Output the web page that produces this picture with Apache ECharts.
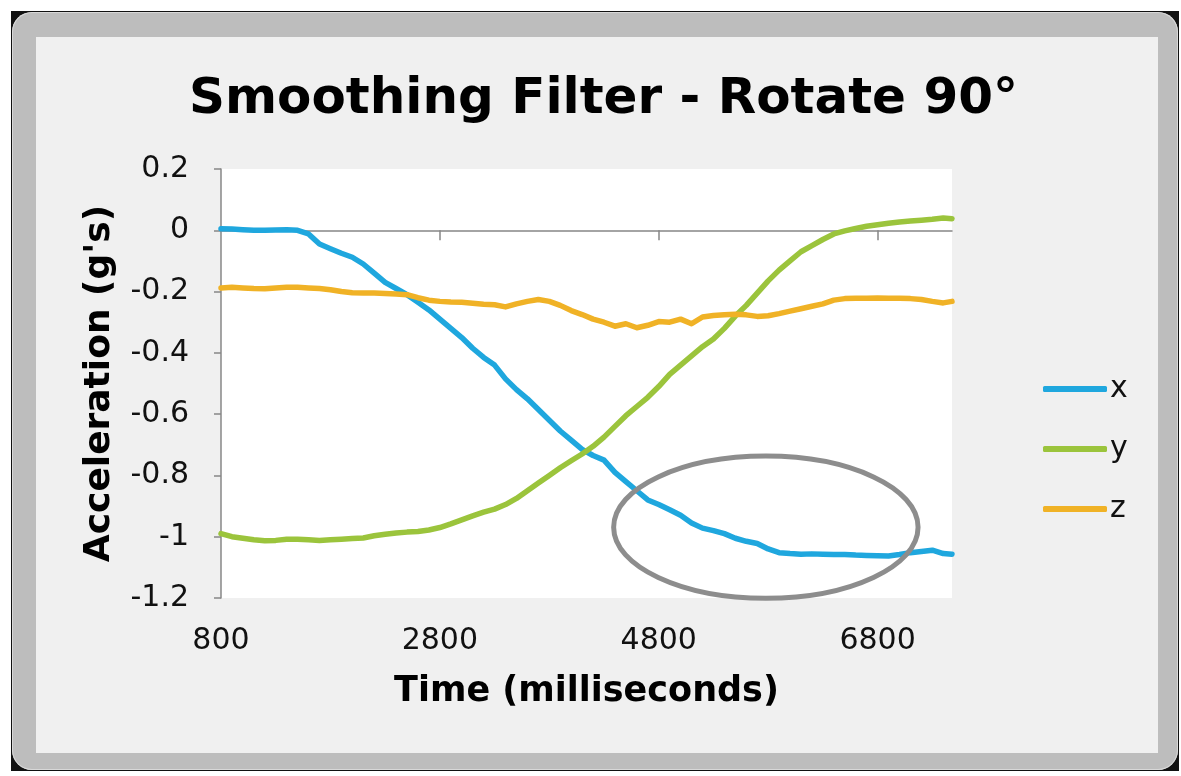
<!DOCTYPE html>
<html>
<head>
<meta charset="utf-8">
<script src="https://cdn.jsdelivr.net/npm/echarts@6/dist/echarts.min.js"></script>
<style>
  html, body { margin:0; padding:0; background:#ffffff; }
  #wrap { position:relative; width:1181px; height:776px; overflow:hidden; }
  #black { position:absolute; left:11px; top:11px; width:1168px; height:760px; background:#111; }
  #gray { position:absolute; left:12px; top:12px; width:1166px; height:758px; background:#bdbdbd; border-radius:20px; box-shadow: inset 0 0 0 1px #d8d8d8; }
  #inner { position:absolute; left:36px; top:37px; width:1122px; height:716px; background:#f0f0f0; }
  #chart { position:absolute; left:0; top:0; width:1181px; height:776px; }
</style>
</head>
<body>
<div id="wrap">
  <div id="black"></div>
  <div id="gray"></div>
  <div id="inner"></div>
  <div id="chart"></div>
</div>
<script>
// ---- Data (time in ms, acceleration in g's) ----
const titleText = 'Smoothing Filter - Rotate 90°';
const xAxisName = 'Time (milliseconds)';
const yAxisName = "Acceleration (g's)";
const xTickLabels = [800, 2800, 4800, 6800];
const yMin = -1.2, yMax = 0.2, yStep = 0.2;
const seriesNames = ['x', 'y', 'z'];

const times = [800, 900, 1000, 1100, 1200, 1300, 1400, 1500, 1600, 1700,
  1800, 1900, 2000, 2100, 2200, 2300, 2400, 2500, 2600, 2700,
  2800, 2900, 3000, 3100, 3200, 3300, 3400, 3500, 3600, 3700,
  3800, 3900, 4000, 4100, 4200, 4300, 4400, 4500, 4600, 4700,
  4800, 4900, 5000, 5100, 5200, 5300, 5400, 5500, 5600, 5700,
  5800, 5900, 6000, 6100, 6200, 6300, 6400, 6500, 6600, 6700,
  6800, 6900, 7000, 7100, 7200, 7300, 7400, 7480];

const xValues = [0.005, 0.004, 0.002, 0.0, 0.0, 0.001, 0.002, 0.0, -0.012, -0.045,
  -0.06, -0.075, -0.088, -0.11, -0.14, -0.17, -0.19, -0.21, -0.235, -0.26,
  -0.29, -0.32, -0.35, -0.385, -0.415, -0.44, -0.485, -0.52, -0.55, -0.585,
  -0.62, -0.655, -0.685, -0.715, -0.735, -0.75, -0.79, -0.82, -0.85, -0.88,
  -0.895, -0.912, -0.93, -0.955, -0.972, -0.98, -0.99, -1.005, -1.015, -1.022,
  -1.04, -1.052, -1.055, -1.057, -1.056, -1.057, -1.058, -1.058, -1.06, -1.061,
  -1.062, -1.063, -1.058, -1.052, -1.048, -1.044, -1.055, -1.057];

const yValues = [-0.99, -1.0, -1.005, -1.01, -1.013, -1.012, -1.008, -1.008, -1.01, -1.012,
  -1.01, -1.008, -1.006, -1.004, -0.997, -0.992, -0.988, -0.985, -0.983, -0.978,
  -0.97, -0.958, -0.945, -0.932, -0.92, -0.91, -0.895, -0.875, -0.85, -0.825,
  -0.8, -0.775, -0.752, -0.73, -0.705, -0.675, -0.64, -0.605, -0.575, -0.545,
  -0.51, -0.47, -0.44, -0.41, -0.38, -0.355, -0.32, -0.28, -0.245, -0.205,
  -0.165, -0.13, -0.1, -0.07, -0.05, -0.03, -0.012, -0.002, 0.006, 0.013,
  0.018, 0.023, 0.027, 0.03, 0.033, 0.036, 0.04, 0.038];

const zValues = [-0.188, -0.186, -0.188, -0.19, -0.191, -0.188, -0.186, -0.186, -0.188, -0.19,
  -0.194, -0.2, -0.204, -0.205, -0.205, -0.206, -0.208, -0.21, -0.22, -0.228,
  -0.232, -0.234, -0.235, -0.238, -0.241, -0.243, -0.25, -0.24, -0.232, -0.226,
  -0.232, -0.245, -0.262, -0.275, -0.29, -0.3, -0.313, -0.305, -0.318, -0.31,
  -0.298, -0.3, -0.29, -0.305, -0.283, -0.278, -0.276, -0.274, -0.276, -0.281,
  -0.279, -0.272, -0.264, -0.256, -0.248, -0.24, -0.228, -0.223, -0.222, -0.222,
  -0.221, -0.222, -0.222, -0.223, -0.226, -0.232, -0.237, -0.232];

// Annotation ellipse (in data units)
const ellipseCenter = [5779, -0.969];
const ellipseRadiusTime = 1391;
const ellipseRadiusAcc = 0.232;

const colors = ['#1fa7de', '#9bc43c', '#f0b226'];
const valueSets = [xValues, yValues, zValues];

const chart = echarts.init(document.getElementById('chart'), null, { renderer: 'canvas' });

const axisGray = '#878787';
const labelFont = 'DejaVu Sans';

const option = {
  animation: false,
  backgroundColor: 'transparent',
  title: {
    text: titleText,
    left: 189,
    top: 75,
    padding: 0,
    textStyle: { fontFamily: 'DejaVu Sans', fontWeight: 'bold', fontSize: 50, color: '#000' }
  },
  grid: {
    left: 221, top: 169, width: 731, height: 429,
    show: true, backgroundColor: '#ffffff', borderWidth: 0,
    containLabel: false
  },
  legend: {
    orient: 'vertical',
    left: 1038,
    top: 369,
    icon: 'roundRect',
    itemWidth: 64,
    itemHeight: 6,
    itemGap: 30,
    textStyle: { fontFamily: labelFont, fontSize: 30, color: '#111', lineHeight: 30, padding: [0, 0, 0, -2] },
    data: seriesNames
  },
  xAxis: [
    {
      type: 'value',
      min: times[0],
      max: times[times.length - 1],
      position: 'bottom',
      axisLine: { show: false, onZero: false },
      axisTick: { show: false },
      splitLine: { show: false },
      axisLabel: {
        customValues: xTickLabels,
        margin: 28,
        fontFamily: labelFont,
        fontSize: 30,
        color: '#111',
        formatter: function (v) { return String(v); }
      },
      name: xAxisName,
      nameLocation: 'middle',
      nameGap: 76,
      nameTextStyle: { fontFamily: 'DejaVu Sans', fontWeight: 'bold', fontSize: 35, color: '#000' }
    },
    {
      type: 'value',
      min: times[0],
      max: times[times.length - 1],
      position: 'top',
      axisLine: { show: true, onZero: true, lineStyle: { color: axisGray, width: 1.5 } },
      axisTick: { show: true, inside: true, length: 10, customValues: [2800, 4800, 6800], lineStyle: { color: axisGray, width: 1.5 } },
      splitLine: { show: false },
      axisLabel: { show: false }
    }
  ],
  yAxis: {
    type: 'value',
    min: yMin,
    max: yMax,
    interval: yStep,
    axisLine: { show: true, lineStyle: { color: axisGray, width: 1.5 } },
    axisTick: { show: true, length: 7, lineStyle: { color: axisGray, width: 1.5 } },
    splitLine: { show: false },
    axisLabel: {
      margin: 32,
      fontFamily: labelFont,
      fontSize: 30,
      color: '#111',
      formatter: function (v) { return String(Math.round(v * 10) / 10); }
    },
    name: yAxisName,
    nameLocation: 'middle',
    nameGap: 103,
    nameTextStyle: { fontFamily: 'DejaVu Sans', fontWeight: 'bold', fontSize: 36, color: '#000' }
  },
  series: seriesNames.map(function (name, i) {
    return {
      name: name,
      type: 'line',
      xAxisIndex: 0,
      showSymbol: false,
      symbol: 'none',
      color: colors[i],
      lineStyle: { width: 5.5, color: colors[i], join: 'round', cap: 'round' },
      data: times.map(function (t, k) { return [t, valueSets[i][k]]; })
    };
  })
};

chart.setOption(option);

// Ellipse annotation positioned through the chart's own scales
const c = chart.convertToPixel({ gridIndex: 0 }, ellipseCenter);
const ex = chart.convertToPixel({ gridIndex: 0 }, [ellipseCenter[0] + ellipseRadiusTime, ellipseCenter[1]]);
const ey = chart.convertToPixel({ gridIndex: 0 }, [ellipseCenter[0], ellipseCenter[1] + ellipseRadiusAcc]);
chart.setOption({
  graphic: [{
    type: 'ellipse',
    z: 100,
    shape: { cx: c[0], cy: c[1], rx: Math.abs(ex[0] - c[0]), ry: Math.abs(ey[1] - c[1]) },
    style: { fill: 'none', stroke: '#8d8d8d', lineWidth: 5 }
  }]
});
</script>
</body>
</html>
